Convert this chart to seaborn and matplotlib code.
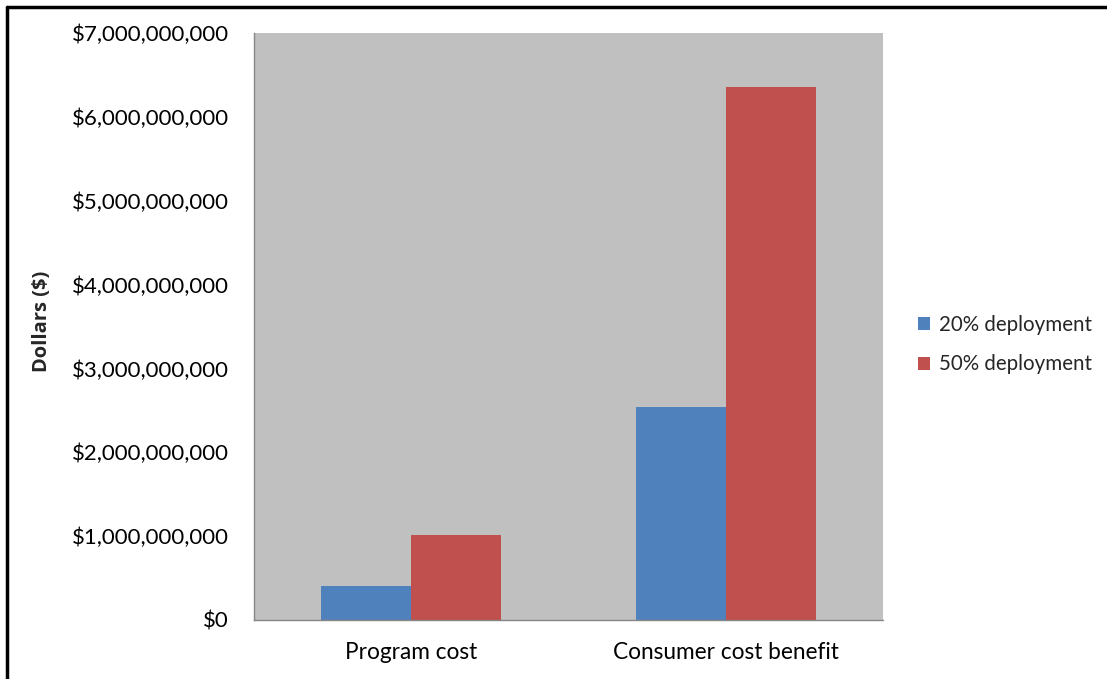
import matplotlib
matplotlib.use("Agg")
import matplotlib.pyplot as plt
from matplotlib.lines import Line2D
from matplotlib.ticker import FuncFormatter, FixedLocator
import seaborn as sns
import pandas as pd

categories = ["Program cost", "Consumer cost benefit"]
series = ["20% deployment", "50% deployment"]
values_20 = [0.40e9, 2.54e9]
values_50 = [1.01e9, 6.36e9]
colors = ["#4F81BD", "#C0504D"]

df = pd.DataFrame({
    "category": categories * 2,
    "series": [series[0]] * 2 + [series[1]] * 2,
    "value": values_20 + values_50,
})

sns.set_theme(style="white")
plt.rcParams["font.family"] = ["Lato", "DejaVu Sans"]

fig = plt.figure(figsize=(11.07, 6.79), dpi=100)
ax = fig.add_axes([254 / 1107, 59 / 679, 629 / 1107, 587 / 679])
ax.set_facecolor("#C0C0C0")

sns.barplot(data=df, x="category", y="value", hue="series", order=categories,
            hue_order=series, palette=colors, width=0.572, saturation=1,
            edgecolor="none", linewidth=0, ax=ax)

ax.set_xlim(-0.5, 1.5)
ax.set_ylim(0, 7e9)
ax.set_yticks([i * 1e9 for i in range(8)])
ax.yaxis.set_major_formatter(FuncFormatter(lambda v, p: f"${v:,.0f}"))

ax.xaxis.set_minor_locator(FixedLocator([-0.5, 0.5, 1.5]))
ax.tick_params(axis="x", which="major", length=0, pad=16, labelsize=16.3, colors="black")
ax.tick_params(axis="x", which="minor", length=7, width=1, color="#868686", direction="out")
ax.tick_params(axis="y", length=7, width=1, color="#868686", direction="out",
               pad=11, labelsize=16, colors="black")
ax.set_xlabel("")
ax.set_ylabel("Dollars ($)", fontsize=14.5, fontweight="bold",
              family=["Open Sans", "DejaVu Sans"])
ax.yaxis.set_label_coords(-0.321, 0.509)

for side in ["top", "right"]:
    ax.spines[side].set_visible(False)
for side in ["left", "bottom"]:
    ax.spines[side].set_color("#868686")
    ax.spines[side].set_linewidth(1)

handles, labels = ax.get_legend_handles_labels()
ax.legend(handles, labels, loc="center left", bbox_to_anchor=(1.026, 0.469),
          frameon=False, fontsize=14.8, handlelength=0.6, handleheight=0.6,
          handletextpad=0.45, labelspacing=0.95)

# outer frame: left and top edges
fig.add_artist(Line2D([7 / 1107, 7 / 1107], [0, 1 - 7 / 679], transform=fig.transFigure,
                      color="black", linewidth=2.5))
fig.add_artist(Line2D([7 / 1107, 1], [1 - 7 / 679, 1 - 7 / 679], transform=fig.transFigure,
                      color="black", linewidth=2.5))

fig.savefig("out.png", dpi=100)
